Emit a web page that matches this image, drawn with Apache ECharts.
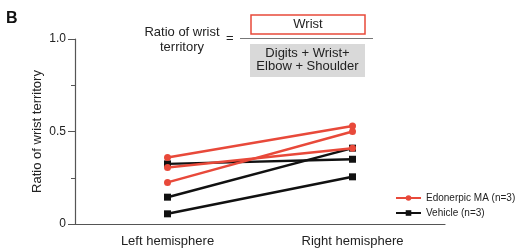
<!DOCTYPE html>
<html>
<head>
    <meta charset="utf-8">
    <script src="https://cdn.jsdelivr.net/npm/echarts@6/dist/echarts.min.js"></script>
    <style>body{margin:0;background:#fff;}</style>
</head>
<body>
    <div id="chart" style="width:519px;height:248px;"></div>
    <script type="text/javascript">
        // values
        var categories = ['Left hemisphere', 'Right hemisphere'];
        var edonerpic1 = [0.36, 0.53];
        var edonerpic2 = [0.305, 0.41];
        var edonerpic3 = [0.225, 0.50];
        var vehicle1 = [0.325, 0.35];
        var vehicle2 = [0.145, 0.41];
        var vehicle3 = [0.055, 0.255];
        var yTicks = {0: '0', 0.5: '0.5', 1: '1.0'};

        var RED = '#e8493a', BLACK = '#111';
        var FONT = 'Liberation Sans';

        function mkSeries(name, data, color, symbol) {
            return {
                name: name, type: 'line', data: data,
                symbol: symbol, symbolSize: 7,
                lineStyle: {color: color, width: 2.5},
                itemStyle: {color: color},
                z: color === RED ? 3 : 2
            };
        }

        var myChart = echarts.init(document.getElementById('chart'));
        var option = {
            animation: false,
            textStyle: {fontFamily: FONT},
            grid: {left: 75, right: 74, top: 39, bottom: 24},
            legend: {
                left: 395, top: 193, orient: 'vertical', itemGap: 5, padding: 0,
                itemWidth: 25, itemHeight: 7,
                textStyle: {fontSize: 10, color: '#222', fontFamily: FONT},
                data: ['Edonerpic MA (n=3)', 'Vehicle (n=3)']
            },
            xAxis: {
                type: 'category', data: categories, boundaryGap: true,
                axisLine: {lineStyle: {color: '#555', width: 1.2}},
                axisTick: {alignWithLabel: true, length: 5, lineStyle: {color: '#555'}},
                axisLabel: {fontSize: 13, color: '#222', margin: 11}
            },
            yAxis: {
                type: 'value', min: 0, max: 1, interval: 0.5,
                name: 'Ratio of wrist territory', nameLocation: 'middle', nameGap: 31,
                nameMoveOverlap: false,
                nameTextStyle: {fontSize: 13, color: '#222'},
                splitLine: {show: false},
                axisLine: {show: true, lineStyle: {color: '#555', width: 1.2}},
                axisTick: {show: true, length: 7, lineStyle: {color: '#555'}},
                minorTick: {show: true, splitNumber: 2, length: 4, lineStyle: {color: '#555'}},
                axisLabel: {
                    fontSize: 12, color: '#222', margin: 9,
                    formatter: function (v) { return yTicks[v] !== undefined ? yTicks[v] : ''; }
                }
            },
            graphic: [
                {type: 'text', position: [6, 11], style: {text: 'B', font: 'bold 16px ' + FONT, fill: '#111'}},
                {type: 'text', position: [182, 25], style: {text: 'Ratio of wrist\nterritory', font: '13px ' + FONT, fill: '#222', align: 'center', lineHeight: 15}},
                {type: 'text', position: [226, 32], style: {text: '=', font: '13px ' + FONT, fill: '#222'}},
                {type: 'rect', shape: {x: 251, y: 15, width: 114, height: 19}, style: {fill: '#fff', stroke: RED, lineWidth: 1.5}},
                {type: 'text', position: [308, 18], style: {text: 'Wrist', font: '13px ' + FONT, fill: '#222', align: 'center'}},
                {type: 'line', shape: {x1: 240, y1: 38.5, x2: 373, y2: 38.5}, style: {stroke: '#777', lineWidth: 1.2}},
                {type: 'rect', shape: {x: 250, y: 44, width: 115, height: 33}, style: {fill: '#d9d9d9'}},
                {type: 'text', position: [307.5, 47], style: {text: 'Digits + Wrist+\nElbow + Shoulder', font: '13px ' + FONT, fill: '#222', align: 'center', lineHeight: 13}}
            ],
            series: [
                mkSeries('Vehicle (n=3)', vehicle1, BLACK, 'rect'),
                mkSeries('Vehicle (n=3)', vehicle2, BLACK, 'rect'),
                mkSeries('Vehicle (n=3)', vehicle3, BLACK, 'rect'),
                mkSeries('Edonerpic MA (n=3)', edonerpic1, RED, 'circle'),
                mkSeries('Edonerpic MA (n=3)', edonerpic2, RED, 'circle'),
                mkSeries('Edonerpic MA (n=3)', edonerpic3, RED, 'circle')
            ]
        };
        myChart.setOption(option);
    </script>
</body>
</html>
